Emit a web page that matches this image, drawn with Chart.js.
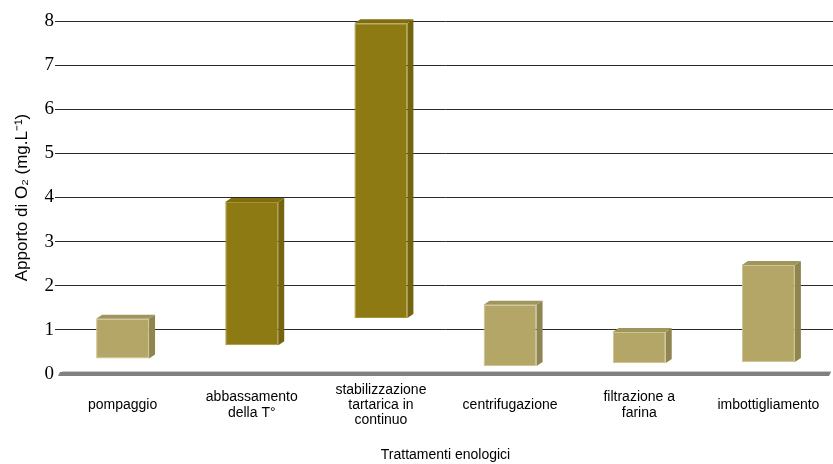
<!DOCTYPE html>
<html>
<head>
<meta charset="utf-8">
<script src="https://cdn.jsdelivr.net/npm/chart.js@4/dist/chart.umd.min.js"></script>
<style>
  html, body { margin: 0; padding: 0; background: #fff; }
  #wrap { width: 833px; height: 464px; }
</style>
</head>
<body>
<div id="wrap"><canvas id="bar-chart"></canvas></div>
<script>
// categories (multi-line labels as in the picture)
const trattamenti = [
    'pompaggio',
    ['abbassamento', 'della T°'],
    ['stabilizzazione', 'tartarica in', 'continuo'],
    'centrifugazione',
    ['filtrazione a', 'farina'],
    'imbottigliamento'
]
// floating bars: lower and upper O2 intake (mg/L)
const minimo = [0.35, 0.65, 1.27, 0.18, 0.25, 0.27]
const massimo = [1.25, 3.9, 7.95, 1.57, 0.95, 2.47]
const scuro = [false, true, true, false, false, false]
const yTicks = [0, 1, 2, 3, 4, 5, 6, 7, 8]

const chiaro = { front: '#b3a667', side: '#8e8550', top: '#a0955c' }
const oliva = { front: '#8e7a12', side: '#74640e', top: '#7f6d10' }

const narrow = "'Liberation Sans Narrow', 'Arial Narrow', 'Liberation Sans', sans-serif"

// side and top faces of the 3D bars, drawn from the bar elements
const box3d = {
    id: 'box3d',
    afterDatasetsDraw(chart) {
        const ctx = chart.ctx
        const dx = 6, dy = -4
        chart.getDatasetMeta(0).data.forEach((bar, i) => {
            const c = scuro[i] ? oliva : chiaro
            const l = bar.x - bar.width / 2, r = bar.x + bar.width / 2
            const t = Math.min(bar.y, bar.base), b = Math.max(bar.y, bar.base)
            ctx.save()
            ctx.fillStyle = c.side
            ctx.beginPath()
            ctx.moveTo(r, t); ctx.lineTo(r + dx, t + dy); ctx.lineTo(r + dx, b + dy); ctx.lineTo(r, b)
            ctx.closePath(); ctx.fill()
            ctx.fillStyle = c.top
            ctx.beginPath()
            ctx.moveTo(l, t); ctx.lineTo(l + dx, t + dy); ctx.lineTo(r + dx, t + dy); ctx.lineTo(r, t)
            ctx.closePath(); ctx.fill()
            ctx.restore()
        })
    }
}

// grey floor slab at zero
const pavimento = {
    id: 'pavimento',
    beforeDatasetsDraw(chart) {
        const ctx = chart.ctx
        const y0 = chart.scales.y.getPixelForValue(0)
        const { left, right } = chart.chartArea
        ctx.save()
        ctx.fillStyle = '#808080'
        ctx.beginPath()
        ctx.moveTo(left + 2, y0 - 2)
        ctx.lineTo(right - 2, y0 - 2)
        ctx.lineTo(right - 4, y0 + 2)
        ctx.lineTo(left, y0 + 2)
        ctx.closePath(); ctx.fill()
        ctx.fillStyle = '#c8c8c8'
        ctx.fillRect(left + 4, y0 - 3, right - left - 6, 1)
        ctx.restore()
    }
}

new Chart(document.getElementById('bar-chart'), {
    type: 'bar',
    data: {
        labels: trattamenti,
        datasets: [{
            data: minimo.map((v, i) => [v, massimo[i]]),
            backgroundColor: scuro.map(s => s ? oliva.front : chiaro.front),
            borderColor: scuro.map(s => s ? '#a89530' : '#cfc48c'),
            borderWidth: 1,
            borderSkipped: false,
            barPercentage: 0.82,
            categoryPercentage: 0.5
        }]
    },
    options: {
        responsive: true,
        maintainAspectRatio: false,
        animation: false,
        layout: { padding: { top: 21, right: 0, left: 0, bottom: 0 } },
        plugins: { legend: { display: false }, tooltip: { enabled: false } },
        scales: {
            x: {
                grid: { display: false },
                border: { display: false },
                ticks: {
                    color: '#000',
                    font: { family: narrow, size: 14, lineHeight: 1.08 },
                    maxRotation: 0,
                    autoSkip: false,
                    crossAlign: 'center',
                    padding: 8
                },
                title: {
                    display: true,
                    text: 'Trattamenti enologici',
                    color: '#000',
                    font: { family: narrow, size: 14 },
                    padding: { top: 14, bottom: 0 }
                },
                afterFit: s => { s.height = 90 }
            },
            y: {
                min: 0,
                max: 8,
                afterBuildTicks: s => { s.ticks = yTicks.map(v => ({ value: v })) },
                grid: {
                    color: ctx => ctx.tick && ctx.tick.value === 0 ? 'rgba(0,0,0,0)' : '#2a2a2a',
                    lineWidth: 1,
                    tickLength: 3
                },
                border: { display: false },
                ticks: {
                    color: '#000',
                    font: { family: "'Liberation Serif', 'Times New Roman', serif", size: 19 },
                    padding: 1
                },
                title: {
                    display: true,
                    text: 'Apporto di O₂ (mg.L⁻¹)',
                    color: '#000',
                    font: { family: "'Liberation Sans', Arial, sans-serif", size: 17 },
                    padding: { top: 12, bottom: 0 }
                },
                afterFit: s => { s.width = 58 }
            }
        }
    },
    plugins: [pavimento, box3d]
})
</script>
</body>
</html>
